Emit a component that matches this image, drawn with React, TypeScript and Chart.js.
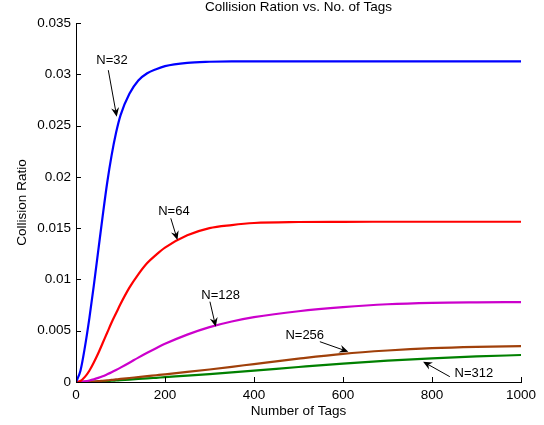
import { useEffect, useRef } from "react";
import { Chart, registerables } from "chart.js";

Chart.register(...registerables);

// ---- data ----
const tagCounts = [0, 10, 20, 30, 40, 50, 60, 70, 80, 90, 100, 120, 140, 160, 180, 200, 250, 300, 350, 400, 500, 600, 700, 800, 900, 1000];

const ratioN32 = [0, 0.0011, 0.0034, 0.0062, 0.0094, 0.0128, 0.0162, 0.0194, 0.0221, 0.0243, 0.026, 0.0281, 0.0294, 0.0301, 0.0305, 0.0308, 0.03112, 0.03122, 0.03125, 0.03125, 0.03125, 0.03125, 0.03125, 0.03125, 0.03125, 0.03125];
const ratioN64 = [0, 0.0001, 0.0005, 0.0011, 0.0019, 0.0028, 0.0038, 0.0048, 0.0058, 0.0067, 0.0076, 0.0092, 0.0105, 0.0116, 0.0124, 0.0131, 0.0143, 0.015, 0.0153, 0.0155, 0.0156, 0.01562, 0.015625, 0.015625, 0.015625, 0.015625];
const ratioN128 = [0, 0.00002, 0.00007, 0.00015, 0.00026, 0.0004, 0.00056, 0.00075, 0.00095, 0.00117, 0.0014, 0.00188, 0.00238, 0.00285, 0.0033, 0.00372, 0.00462, 0.00535, 0.0059, 0.00632, 0.0069, 0.0073, 0.00758, 0.00772, 0.00777, 0.00779];
const ratioN256 = [0, 0.000003, 0.00001, 0.000025, 0.00005, 0.00008, 0.00012, 0.00016, 0.0002, 0.00025, 0.0003, 0.00039, 0.00048, 0.00057, 0.00066, 0.00075, 0.00098, 0.00122, 0.00148, 0.00175, 0.00228, 0.00275, 0.00307, 0.0033, 0.00343, 0.0035];
const ratioN312 = [0, 0.000002, 0.000007, 0.000016, 0.00003, 0.00005, 0.00007, 0.0001, 0.00012, 0.00015, 0.00018, 0.00024, 0.0003, 0.00035, 0.00041, 0.00047, 0.00062, 0.00077, 0.00093, 0.0011, 0.00146, 0.0018, 0.00208, 0.00231, 0.00249, 0.00263];

const seriesLabels = ["N=32", "N=64", "N=128", "N=256", "N=312"];
const seriesValues = [ratioN32, ratioN64, ratioN128, ratioN256, ratioN312];
const seriesColors = ["#0000ff", "#ff0000", "#cc00cc", "#a0400a", "#008000"];

const xTickLabels = ["0", "200", "400", "600", "800", "1000"];
const yTickLabels = ["0", "0.005", "0.01", "0.015", "0.02", "0.025", "0.03", "0.035"];

const chartTitle = "Collision Ration vs. No. of Tags";
const xAxisTitle = "Number of Tags";
const yAxisTitle = "Collision Ratio";

// text-arrow annotations, in data units
const noteLabels = ["N=32", "N=64", "N=128", "N=256", "N=312"];
const noteTextX = [81, 220, 325, 514, 894];
const noteTextY = [0.0314, 0.0166, 0.00848, 0.00458, 0.00085];
const noteTailX = [72.6, 213, 301, 548, 840];
const noteTailY = [0.0304, 0.01596, 0.00783, 0.00393, 0.00052];
const noteTipX = [91.5, 228, 314, 612, 780];
const noteTipY = [0.02587, 0.01384, 0.00539, 0.00295, 0.00198];

const FONT = "'Liberation Sans', Arial, sans-serif";

const decorPlugin = {
  id: "decor",
  afterDraw(chart: any) {
    const { ctx, chartArea, scales } = chart;
    const xs = scales.x;
    const ys = scales.y;
    ctx.save();
    ctx.strokeStyle = "#000";
    ctx.lineWidth = 1;
    ctx.beginPath();
    xs.ticks.forEach((t: any) => {
      const px = Math.round(xs.getPixelForValue(t.value)) + 0.5;
      ctx.moveTo(px, chartArea.bottom);
      ctx.lineTo(px, chartArea.bottom - 5);
    });
    ys.ticks.forEach((t: any) => {
      const py = Math.round(ys.getPixelForValue(t.value)) + 0.5;
      ctx.moveTo(chartArea.left, py);
      ctx.lineTo(chartArea.left + 5, py);
    });
    ctx.stroke();

    ctx.fillStyle = "#000";
    ctx.textAlign = "center";
    ctx.textBaseline = "middle";
    ctx.font = `13.5px ${FONT}`;
    ctx.fillText(chartTitle, (chartArea.left + chartArea.right) / 2, 7);

    ctx.font = `13px ${FONT}`;
    noteLabels.forEach((lab, i) => {
      ctx.fillText(lab, xs.getPixelForValue(noteTextX[i]), ys.getPixelForValue(noteTextY[i]));
      const x1 = xs.getPixelForValue(noteTailX[i]);
      const y1 = ys.getPixelForValue(noteTailY[i]);
      const x2 = xs.getPixelForValue(noteTipX[i]);
      const y2 = ys.getPixelForValue(noteTipY[i]);
      const ang = Math.atan2(y2 - y1, x2 - x1);
      const c = Math.cos(ang);
      const s = Math.sin(ang);
      const L = 9;
      const W = 4;
      ctx.beginPath();
      ctx.moveTo(x1, y1);
      ctx.lineTo(x2 - c * 4, y2 - s * 4);
      ctx.stroke();
      ctx.beginPath();
      ctx.moveTo(x2, y2);
      ctx.lineTo(x2 - c * L - s * W, y2 - s * L + c * W);
      ctx.lineTo(x2 - c * (L - 3), y2 - s * (L - 3));
      ctx.lineTo(x2 - c * L + s * W, y2 - s * L - c * W);
      ctx.closePath();
      ctx.fill();
    });
    ctx.restore();
  },
};

export default function App() {
  const canvasRef = useRef<HTMLCanvasElement | null>(null);

  useEffect(() => {
    const canvas = canvasRef.current;
    if (!canvas) return;
    const chart = new Chart(canvas, {
      type: "line",
      data: {
        datasets: seriesLabels.map((label, i) => ({
          label,
          data: tagCounts.map((x, j) => ({ x, y: seriesValues[i][j] })),
          borderColor: seriesColors[i],
          backgroundColor: seriesColors[i],
          borderWidth: 2.2,
          pointRadius: 0,
          cubicInterpolationMode: "monotone" as const,
          fill: false,
        })),
      },
      options: {
        responsive: false,
        animation: false,
        events: [],
        layout: { padding: { left: 0, right: 23, top: 23, bottom: 0 } },
        plugins: {
          legend: { display: false },
          tooltip: { enabled: false },
          title: { display: false },
        },
        scales: {
          x: {
            type: "linear",
            min: 0,
            max: 1000,
            afterFit: (scale: any) => {
              scale.height = 43;
            },
            ticks: {
              stepSize: 200,
              padding: 5,
              color: "#000",
              font: { family: FONT, size: 13.5 },
              maxRotation: 0,
              callback: (_v: any, index: number) => xTickLabels[index] ?? "",
            },
            grid: { display: false, drawTicks: false },
            border: { display: true, color: "#000", width: 1 },
            title: {
              display: true,
              text: xAxisTitle,
              color: "#000",
              font: { family: FONT, size: 13.5 },
              padding: { top: 0, bottom: 6 },
            },
          },
          y: {
            type: "linear",
            min: 0,
            max: 0.035,
            afterFit: (scale: any) => {
              scale.width = 76;
            },
            ticks: {
              stepSize: 0.005,
              padding: 5,
              color: "#000",
              font: { family: FONT, size: 13.5 },
              callback: (_v: any, index: number) => yTickLabels[index] ?? "",
            },
            grid: { display: false, drawTicks: false },
            border: { display: true, color: "#000", width: 1 },
            title: {
              display: true,
              text: yAxisTitle,
              color: "#000",
              font: { family: FONT, size: 13.5 },
              padding: { top: 14, bottom: 0 },
            },
          },
        },
      },
      plugins: [decorPlugin],
    });
    return () => chart.destroy();
  }, []);

  return (
    <div style={{ position: "absolute", left: 0, top: 0, width: 544, height: 425, background: "#fff" }}>
      <canvas ref={canvasRef} width={544} height={425} />
    </div>
  );
}
